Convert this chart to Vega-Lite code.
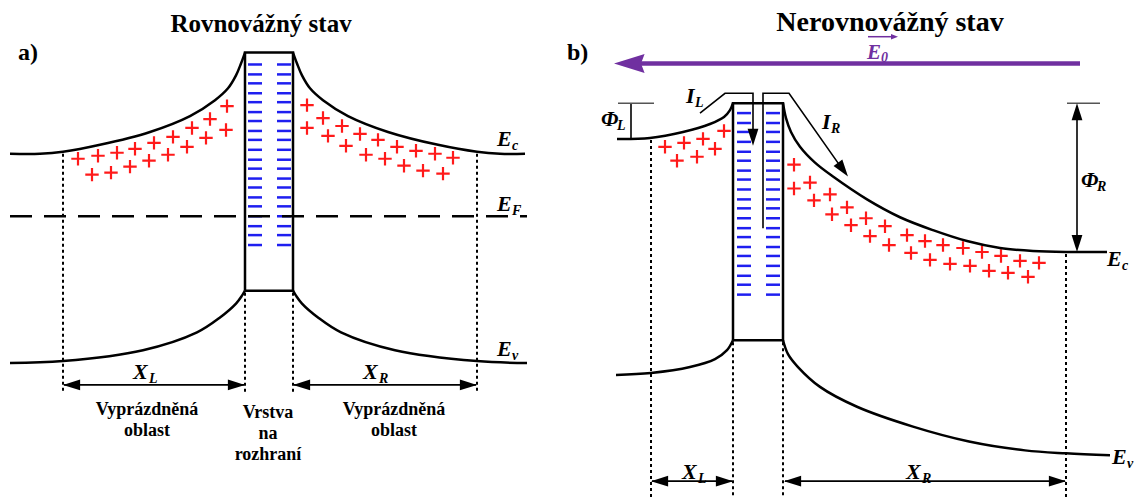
{
"$schema": "https://vega.github.io/schema/vega-lite/v6.json",
"width": 1140, "height": 502, "padding": 0,
"autosize": {"type": "fit", "contains": "padding"},
"background": "white",
"config": {"view": {"stroke": null}},
"datasets": {
"paths": [
{"id":"a_Ec_L","k":"curve","i":0,"x":10,"y":155},{"id":"a_Ec_L","k":"curve","i":1,"x":40,"y":155},{"id":"a_Ec_L","k":"curve","i":2,"x":63,"y":153},{"id":"a_Ec_L","k":"curve","i":3,"x":100,"y":146},{"id":"a_Ec_L","k":"curve","i":4,"x":150,"y":133},{"id":"a_Ec_L","k":"curve","i":5,"x":190,"y":117},{"id":"a_Ec_L","k":"curve","i":6,"x":215,"y":101},{"id":"a_Ec_L","k":"curve","i":7,"x":228,"y":89},{"id":"a_Ec_L","k":"curve","i":8,"x":236,"y":76},{"id":"a_Ec_L","k":"curve","i":9,"x":241,"y":64},{"id":"a_Ec_L","k":"curve","i":10,"x":245,"y":53},
{"id":"a_Ec_R","k":"curve","i":0,"x":293,"y":53},{"id":"a_Ec_R","k":"curve","i":1,"x":297,"y":64},{"id":"a_Ec_R","k":"curve","i":2,"x":302,"y":76},{"id":"a_Ec_R","k":"curve","i":3,"x":310,"y":89},{"id":"a_Ec_R","k":"curve","i":4,"x":323,"y":101},{"id":"a_Ec_R","k":"curve","i":5,"x":348,"y":117},{"id":"a_Ec_R","k":"curve","i":6,"x":388,"y":133},{"id":"a_Ec_R","k":"curve","i":7,"x":438,"y":146},{"id":"a_Ec_R","k":"curve","i":8,"x":477,"y":153},{"id":"a_Ec_R","k":"curve","i":9,"x":500,"y":155},{"id":"a_Ec_R","k":"curve","i":10,"x":525,"y":155},
{"id":"a_Ev_L","k":"curve","i":0,"x":10,"y":366},{"id":"a_Ev_L","k":"curve","i":1,"x":63,"y":364},{"id":"a_Ev_L","k":"curve","i":2,"x":143,"y":353},{"id":"a_Ev_L","k":"curve","i":3,"x":197,"y":335},{"id":"a_Ev_L","k":"curve","i":4,"x":220,"y":320},{"id":"a_Ev_L","k":"curve","i":5,"x":236,"y":306},{"id":"a_Ev_L","k":"curve","i":6,"x":242,"y":298},{"id":"a_Ev_L","k":"curve","i":7,"x":245,"y":293},
{"id":"a_Ev_R","k":"curve","i":0,"x":293,"y":293},{"id":"a_Ev_R","k":"curve","i":1,"x":296,"y":298},{"id":"a_Ev_R","k":"curve","i":2,"x":302,"y":306},{"id":"a_Ev_R","k":"curve","i":3,"x":318,"y":320},{"id":"a_Ev_R","k":"curve","i":4,"x":341,"y":335},{"id":"a_Ev_R","k":"curve","i":5,"x":395,"y":353},{"id":"a_Ev_R","k":"curve","i":6,"x":477,"y":364},{"id":"a_Ev_R","k":"curve","i":7,"x":527,"y":366},
{"id":"a_box","k":"seg","i":0,"x":245,"y":293},{"id":"a_box","k":"seg","i":1,"x":245,"y":53},{"id":"a_box","k":"seg","i":2,"x":293,"y":53},{"id":"a_box","k":"seg","i":3,"x":293,"y":293},{"id":"a_box","k":"seg","i":4,"x":245,"y":293},
{"id":"a_EF","k":"dash","i":0,"x":10,"y":218},{"id":"a_EF","k":"dash","i":1,"x":527,"y":218},
{"id":"a_d1","k":"dot","i":0,"x":63,"y":155},{"id":"a_d1","k":"dot","i":1,"x":63,"y":396},
{"id":"a_d2","k":"dot","i":0,"x":245,"y":295},{"id":"a_d2","k":"dot","i":1,"x":245,"y":396},
{"id":"a_d3","k":"dot","i":0,"x":293,"y":295},{"id":"a_d3","k":"dot","i":1,"x":293,"y":396},
{"id":"a_d4","k":"dot","i":0,"x":477,"y":155},{"id":"a_d4","k":"dot","i":1,"x":477,"y":396},
{"id":"a_XL","k":"thin","i":0,"x":64,"y":388},{"id":"a_XL","k":"thin","i":1,"x":244,"y":388},
{"id":"a_XR","k":"thin","i":0,"x":294,"y":388},{"id":"a_XR","k":"thin","i":1,"x":476,"y":388},
{"id":"b_Ec_L","k":"curve","i":0,"x":617,"y":140},{"id":"b_Ec_L","k":"curve","i":1,"x":650,"y":139},{"id":"b_Ec_L","k":"curve","i":2,"x":683,"y":133},{"id":"b_Ec_L","k":"curve","i":3,"x":710,"y":125},{"id":"b_Ec_L","k":"curve","i":4,"x":724,"y":118},{"id":"b_Ec_L","k":"curve","i":5,"x":730,"y":111},{"id":"b_Ec_L","k":"curve","i":6,"x":733,"y":104},
{"id":"b_Ec_R","k":"curve","i":0,"x":783,"y":104},{"id":"b_Ec_R","k":"curve","i":1,"x":786,"y":119},{"id":"b_Ec_R","k":"curve","i":2,"x":791,"y":133},{"id":"b_Ec_R","k":"curve","i":3,"x":800,"y":148},{"id":"b_Ec_R","k":"curve","i":4,"x":815,"y":164},{"id":"b_Ec_R","k":"curve","i":5,"x":833,"y":178},{"id":"b_Ec_R","k":"curve","i":6,"x":867,"y":201},{"id":"b_Ec_R","k":"curve","i":7,"x":900,"y":219},{"id":"b_Ec_R","k":"curve","i":8,"x":933,"y":232},{"id":"b_Ec_R","k":"curve","i":9,"x":967,"y":243},{"id":"b_Ec_R","k":"curve","i":10,"x":1000,"y":250},{"id":"b_Ec_R","k":"curve","i":11,"x":1033,"y":253},{"id":"b_Ec_R","k":"curve","i":12,"x":1066,"y":254},{"id":"b_Ec_R","k":"curve","i":13,"x":1107,"y":254},
{"id":"b_Ev_L","k":"curve","i":0,"x":616,"y":378},{"id":"b_Ev_L","k":"curve","i":1,"x":651,"y":376},{"id":"b_Ev_L","k":"curve","i":2,"x":690,"y":370},{"id":"b_Ev_L","k":"curve","i":3,"x":715,"y":362},{"id":"b_Ev_L","k":"curve","i":4,"x":727,"y":353},{"id":"b_Ev_L","k":"curve","i":5,"x":733,"y":343},
{"id":"b_Ev_R","k":"curve","i":0,"x":783,"y":343},{"id":"b_Ev_R","k":"curve","i":1,"x":788,"y":357},{"id":"b_Ev_R","k":"curve","i":2,"x":798,"y":370},{"id":"b_Ev_R","k":"curve","i":3,"x":820,"y":390},{"id":"b_Ev_R","k":"curve","i":4,"x":857,"y":410},{"id":"b_Ev_R","k":"curve","i":5,"x":913,"y":430},{"id":"b_Ev_R","k":"curve","i":6,"x":969,"y":445},{"id":"b_Ev_R","k":"curve","i":7,"x":1025,"y":454},{"id":"b_Ev_R","k":"curve","i":8,"x":1066,"y":457},{"id":"b_Ev_R","k":"curve","i":9,"x":1110,"y":459},
{"id":"b_box","k":"seg","i":0,"x":733,"y":343},{"id":"b_box","k":"seg","i":1,"x":733,"y":104},{"id":"b_box","k":"seg","i":2,"x":783,"y":104},{"id":"b_box","k":"seg","i":3,"x":783,"y":343},{"id":"b_box","k":"seg","i":4,"x":733,"y":343},
{"id":"b_d1","k":"dot","i":0,"x":651,"y":141},{"id":"b_d1","k":"dot","i":1,"x":651,"y":502},
{"id":"b_d2","k":"dot","i":0,"x":733,"y":345},{"id":"b_d2","k":"dot","i":1,"x":733,"y":502},
{"id":"b_d3","k":"dot","i":0,"x":783,"y":345},{"id":"b_d3","k":"dot","i":1,"x":783,"y":502},
{"id":"b_d4","k":"dot","i":0,"x":1066,"y":256},{"id":"b_d4","k":"dot","i":1,"x":1066,"y":502},
{"id":"b_XL","k":"thin","i":0,"x":652,"y":485},{"id":"b_XL","k":"thin","i":1,"x":732,"y":485},
{"id":"b_XR","k":"thin","i":0,"x":785,"y":485},{"id":"b_XR","k":"thin","i":1,"x":1065,"y":485},
{"id":"b_IL","k":"thin","i":0,"x":700,"y":114},{"id":"b_IL","k":"thin","i":1,"x":725,"y":94},{"id":"b_IL","k":"thin","i":2,"x":753,"y":94},{"id":"b_IL","k":"thin","i":3,"x":753,"y":138},
{"id":"b_IR","k":"thin","i":0,"x":763,"y":230},{"id":"b_IR","k":"thin","i":1,"x":763,"y":94},{"id":"b_IR","k":"thin","i":2,"x":789,"y":94},{"id":"b_IR","k":"thin","i":3,"x":842,"y":170},
{"id":"b_PL","k":"thin","i":0,"x":631,"y":104},{"id":"b_PL","k":"thin","i":1,"x":631,"y":140},
{"id":"b_PR","k":"thin","i":0,"x":1077,"y":112},{"id":"b_PR","k":"thin","i":1,"x":1077,"y":246},
{"id":"b_tL","k":"gray","i":0,"x":618,"y":104},{"id":"b_tL","k":"gray","i":1,"x":654,"y":104},
{"id":"b_tR","k":"gray","i":0,"x":1067,"y":104},{"id":"b_tR","k":"gray","i":1,"x":1100,"y":104},
{"id":"b_E","k":"purple","i":0,"x":640,"y":64},{"id":"b_E","k":"purple","i":1,"x":1080,"y":64},
{"id":"b_E0","k":"pthin","i":0,"x":868,"y":37},{"id":"b_E0","k":"pthin","i":1,"x":891,"y":37}
],
"heads": [
{"k":"black","x":63,"y":388,"deg":180},{"k":"black","x":245,"y":388,"deg":0},{"k":"black","x":293,"y":388,"deg":180},{"k":"black","x":477,"y":388,"deg":0},
{"k":"black","x":651,"y":485,"deg":180},{"k":"black","x":733,"y":485,"deg":0},{"k":"black","x":784,"y":485,"deg":180},{"k":"black","x":1066,"y":485,"deg":0},
{"k":"black","x":753,"y":147,"deg":90},{"k":"black","x":848,"y":178,"deg":54},
{"k":"black","x":1077,"y":104,"deg":270},{"k":"black","x":1077,"y":254,"deg":90},
{"k":"pbig","x":614,"y":64,"deg":180},{"k":"psmall","x":898,"y":37,"deg":0}
],
"charges": [
{"q":"-","x":255,"y":65},{"q":"-","x":255,"y":75},{"q":"-","x":255,"y":84},{"q":"-","x":255,"y":94},{"q":"-","x":255,"y":103},{"q":"-","x":255,"y":113},{"q":"-","x":255,"y":122},{"q":"-","x":255,"y":132},{"q":"-","x":255,"y":141},{"q":"-","x":255,"y":151},{"q":"-","x":255,"y":161},{"q":"-","x":255,"y":170},{"q":"-","x":255,"y":180},{"q":"-","x":255,"y":189},{"q":"-","x":255,"y":199},{"q":"-","x":255,"y":208},{"q":"-","x":255,"y":218},{"q":"-","x":255,"y":228},{"q":"-","x":255,"y":237},{"q":"-","x":255,"y":247},
{"q":"-","x":284,"y":65},{"q":"-","x":284,"y":75},{"q":"-","x":284,"y":84},{"q":"-","x":284,"y":94},{"q":"-","x":284,"y":103},{"q":"-","x":284,"y":113},{"q":"-","x":284,"y":122},{"q":"-","x":284,"y":132},{"q":"-","x":284,"y":141},{"q":"-","x":284,"y":151},{"q":"-","x":284,"y":161},{"q":"-","x":284,"y":170},{"q":"-","x":284,"y":180},{"q":"-","x":284,"y":189},{"q":"-","x":284,"y":199},{"q":"-","x":284,"y":208},{"q":"-","x":284,"y":218},{"q":"-","x":284,"y":228},{"q":"-","x":284,"y":237},{"q":"-","x":284,"y":247},
{"q":"-","x":744,"y":114},{"q":"-","x":744,"y":124},{"q":"-","x":744,"y":133},{"q":"-","x":744,"y":143},{"q":"-","x":744,"y":153},{"q":"-","x":744,"y":162},{"q":"-","x":744,"y":172},{"q":"-","x":744,"y":181},{"q":"-","x":744,"y":191},{"q":"-","x":744,"y":201},{"q":"-","x":744,"y":210},{"q":"-","x":744,"y":220},{"q":"-","x":744,"y":230},{"q":"-","x":744,"y":239},{"q":"-","x":744,"y":249},{"q":"-","x":744,"y":258},{"q":"-","x":744,"y":268},{"q":"-","x":744,"y":278},{"q":"-","x":744,"y":287},{"q":"-","x":744,"y":297},
{"q":"-","x":773,"y":114},{"q":"-","x":773,"y":124},{"q":"-","x":773,"y":133},{"q":"-","x":773,"y":143},{"q":"-","x":773,"y":153},{"q":"-","x":773,"y":162},{"q":"-","x":773,"y":172},{"q":"-","x":773,"y":181},{"q":"-","x":773,"y":191},{"q":"-","x":773,"y":201},{"q":"-","x":773,"y":210},{"q":"-","x":773,"y":220},{"q":"-","x":773,"y":230},{"q":"-","x":773,"y":239},{"q":"-","x":773,"y":249},{"q":"-","x":773,"y":258},{"q":"-","x":773,"y":268},{"q":"-","x":773,"y":278},{"q":"-","x":773,"y":287},{"q":"-","x":773,"y":297},
{"q":"+","x":78,"y":160},{"q":"+","x":98,"y":157},{"q":"+","x":117,"y":154},{"q":"+","x":135,"y":150},{"q":"+","x":154,"y":144},{"q":"+","x":173,"y":138},{"q":"+","x":192,"y":129},{"q":"+","x":210,"y":120},{"q":"+","x":227,"y":107},
{"q":"+","x":92,"y":176},{"q":"+","x":111,"y":174},{"q":"+","x":130,"y":168},{"q":"+","x":149,"y":162},{"q":"+","x":168,"y":156},{"q":"+","x":187,"y":148},{"q":"+","x":206,"y":139},{"q":"+","x":226,"y":131},
{"q":"+","x":307,"y":106},{"q":"+","x":323,"y":119},{"q":"+","x":342,"y":127},{"q":"+","x":360,"y":135},{"q":"+","x":378,"y":141},{"q":"+","x":397,"y":148},{"q":"+","x":416,"y":152},{"q":"+","x":435,"y":155},{"q":"+","x":453,"y":159},
{"q":"+","x":307,"y":129},{"q":"+","x":328,"y":137},{"q":"+","x":346,"y":147},{"q":"+","x":366,"y":156},{"q":"+","x":385,"y":160},{"q":"+","x":404,"y":167},{"q":"+","x":423,"y":172},{"q":"+","x":443,"y":175},
{"q":"+","x":665,"y":148},{"q":"+","x":684,"y":144},{"q":"+","x":703,"y":140},{"q":"+","x":724,"y":132},{"q":"+","x":715,"y":150},{"q":"+","x":677,"y":162},{"q":"+","x":697,"y":158},
{"q":"+","x":794,"y":166},{"q":"+","x":794,"y":190},{"q":"+","x":810,"y":184},{"q":"+","x":814,"y":202},{"q":"+","x":830,"y":196},{"q":"+","x":832,"y":216},{"q":"+","x":847,"y":209},{"q":"+","x":851,"y":227},{"q":"+","x":866,"y":220},{"q":"+","x":870,"y":238},{"q":"+","x":885,"y":228},{"q":"+","x":889,"y":247},{"q":"+","x":907,"y":237},{"q":"+","x":911,"y":255},{"q":"+","x":925,"y":243},{"q":"+","x":930,"y":262},{"q":"+","x":943,"y":247},{"q":"+","x":950,"y":266},{"q":"+","x":963,"y":250},{"q":"+","x":970,"y":268},{"q":"+","x":982,"y":254},{"q":"+","x":989,"y":273},{"q":"+","x":1001,"y":258},{"q":"+","x":1008,"y":275},{"q":"+","x":1020,"y":263},{"q":"+","x":1028,"y":279},{"q":"+","x":1039,"y":265}
],
"texts": [
{"k":"title","t":"Rovnovážný stav","x":261,"y":32},{"k":"title2","t":"Nerovnovážný stav","x":890,"y":31},
{"k":"panel","t":"a)","x":18,"y":60},{"k":"panel","t":"b)","x":567,"y":60},
{"k":"cap","t":"Vyprázdněná","x":147,"y":418},{"k":"cap","t":"oblast","x":147,"y":440},
{"k":"cap","t":"Vrstva","x":268,"y":421},{"k":"cap","t":"na","x":268,"y":443},{"k":"cap","t":"rozhraní","x":268,"y":464},
{"k":"cap","t":"Vyprázdněná","x":394,"y":418},{"k":"cap","t":"oblast","x":394,"y":440},
{"k":"sym","t":"E","x":497,"y":147},{"k":"sub","t":"c","x":512,"y":151},
{"k":"sym","t":"E","x":497,"y":213},{"k":"sub","t":"F","x":512,"y":217},
{"k":"sym","t":"E","x":497,"y":359},{"k":"sub","t":"v","x":512,"y":363},
{"k":"sym","t":"X","x":133,"y":382},{"k":"sub","t":"L","x":149,"y":386},
{"k":"sym","t":"X","x":363,"y":382},{"k":"sub","t":"R","x":379,"y":386},
{"k":"sym","t":"Φ","x":601,"y":127},{"k":"sub","t":"L","x":617,"y":131},
{"k":"sym","t":"I","x":686,"y":104},{"k":"sub","t":"L","x":695,"y":108},
{"k":"sym","t":"I","x":822,"y":130},{"k":"sub","t":"R","x":831,"y":134},
{"k":"sym","t":"Φ","x":1081,"y":189},{"k":"sub","t":"R","x":1097,"y":193},
{"k":"sym","t":"E","x":1107,"y":268},{"k":"sub","t":"c","x":1122,"y":272},
{"k":"sym","t":"E","x":1112,"y":468},{"k":"sub","t":"v","x":1127,"y":472},
{"k":"sym","t":"X","x":682,"y":483},{"k":"sub","t":"L","x":698,"y":487},
{"k":"sym","t":"X","x":906,"y":483},{"k":"sub","t":"R","x":922,"y":487},
{"k":"psym","t":"E","x":867,"y":59},{"k":"psub","t":"0","x":881,"y":62}
]
},
"encoding": {
"x": {"field": "x", "type": "quantitative", "scale": {"domain": [0, 1140], "nice": false, "zero": false}, "axis": null},
"y": {"field": "y", "type": "quantitative", "scale": {"domain": [0, 502], "reverse": true, "nice": false, "zero": false}, "axis": null}
},
"layer": [
{"data": {"name": "charges"}, "transform": [{"filter": "datum.q == '-'"}],
 "mark": {"type": "point", "shape": "M-1,0H1", "filled": false, "stroke": "#1f1ff0", "strokeWidth": 2.5, "size": 196, "opacity": 1}},
{"data": {"name": "charges"}, "transform": [{"filter": "datum.q == '+'"}],
 "mark": {"type": "point", "shape": "M-1,0H1M0,-1V1", "filled": false, "stroke": "#ff1a1a", "strokeWidth": 2.2, "size": 180, "opacity": 1}},
{"data": {"name": "paths"}, "transform": [{"filter": "datum.k == 'dash'"}],
 "mark": {"type": "line", "stroke": "black", "strokeWidth": 2.5, "strokeDash": [22, 12]},
 "encoding": {"detail": {"field": "id"}, "order": {"field": "i"}}},
{"data": {"name": "paths"}, "transform": [{"filter": "datum.k == 'dot'"}],
 "mark": {"type": "line", "stroke": "black", "strokeWidth": 2, "strokeDash": [3, 3]},
 "encoding": {"detail": {"field": "id"}, "order": {"field": "i"}}},
{"data": {"name": "paths"}, "transform": [{"filter": "datum.k == 'curve'"}],
 "mark": {"type": "line", "interpolate": "catmull-rom", "stroke": "black", "strokeWidth": 2.5},
 "encoding": {"detail": {"field": "id"}, "order": {"field": "i"}}},
{"data": {"name": "paths"}, "transform": [{"filter": "datum.k == 'seg'"}],
 "mark": {"type": "line", "stroke": "black", "strokeWidth": 2.5, "strokeJoin": "miter"},
 "encoding": {"detail": {"field": "id"}, "order": {"field": "i"}}},
{"data": {"name": "paths"}, "transform": [{"filter": "datum.k == 'thin'"}],
 "mark": {"type": "line", "stroke": "black", "strokeWidth": 1.6, "strokeJoin": "miter"},
 "encoding": {"detail": {"field": "id"}, "order": {"field": "i"}}},
{"data": {"name": "paths"}, "transform": [{"filter": "datum.k == 'gray'"}],
 "mark": {"type": "line", "stroke": "#555555", "strokeWidth": 1.5},
 "encoding": {"detail": {"field": "id"}, "order": {"field": "i"}}},
{"data": {"name": "paths"}, "transform": [{"filter": "datum.k == 'purple'"}],
 "mark": {"type": "line", "stroke": "#7030a0", "strokeWidth": 4.5},
 "encoding": {"detail": {"field": "id"}, "order": {"field": "i"}}},
{"data": {"name": "paths"}, "transform": [{"filter": "datum.k == 'pthin'"}],
 "mark": {"type": "line", "stroke": "#7030a0", "strokeWidth": 1.5},
 "encoding": {"detail": {"field": "id"}, "order": {"field": "i"}}},
{"data": {"name": "heads"}, "transform": [{"filter": "datum.k == 'black'"}],
 "mark": {"type": "point", "shape": "M0,0L-1.9,-0.6L-1.9,0.6Z", "filled": true, "fill": "black", "strokeWidth": 0, "size": 324, "opacity": 1},
 "encoding": {"angle": {"field": "deg", "type": "quantitative", "scale": null}}},
{"data": {"name": "heads"}, "transform": [{"filter": "datum.k == 'pbig'"}],
 "mark": {"type": "point", "shape": "M0,0L-3.4,-1.05L-3,0L-3.4,1.05Z", "filled": true, "fill": "#7030a0", "strokeWidth": 0, "size": 324, "opacity": 1},
 "encoding": {"angle": {"field": "deg", "type": "quantitative", "scale": null}}},
{"data": {"name": "heads"}, "transform": [{"filter": "datum.k == 'psmall'"}],
 "mark": {"type": "point", "shape": "M0,0L-2,-0.8L-2,0.8Z", "filled": true, "fill": "#7030a0", "strokeWidth": 0, "size": 49, "opacity": 1},
 "encoding": {"angle": {"field": "deg", "type": "quantitative", "scale": null}}},
{"data": {"name": "texts"}, "transform": [{"filter": "datum.k == 'title'"}],
 "mark": {"type": "text", "font": "Liberation Serif", "fontWeight": "bold", "fontSize": 25, "align": "center", "baseline": "alphabetic", "color": "black"},
 "encoding": {"text": {"field": "t"}}},
{"data": {"name": "texts"}, "transform": [{"filter": "datum.k == 'title2'"}],
 "mark": {"type": "text", "font": "Liberation Serif", "fontWeight": "bold", "fontSize": 28, "align": "center", "baseline": "alphabetic", "color": "black"},
 "encoding": {"text": {"field": "t"}}},
{"data": {"name": "texts"}, "transform": [{"filter": "datum.k == 'panel'"}],
 "mark": {"type": "text", "font": "Liberation Serif", "fontWeight": "bold", "fontSize": 24, "align": "left", "baseline": "alphabetic", "color": "black"},
 "encoding": {"text": {"field": "t"}}},
{"data": {"name": "texts"}, "transform": [{"filter": "datum.k == 'cap'"}],
 "mark": {"type": "text", "font": "Liberation Serif", "fontWeight": "bold", "fontSize": 18, "align": "center", "baseline": "alphabetic", "color": "black"},
 "encoding": {"text": {"field": "t"}}},
{"data": {"name": "texts"}, "transform": [{"filter": "datum.k == 'sym'"}],
 "mark": {"type": "text", "font": "Liberation Serif", "fontWeight": "bold", "fontStyle": "italic", "fontSize": 22, "align": "left", "baseline": "alphabetic", "color": "black"},
 "encoding": {"text": {"field": "t"}}},
{"data": {"name": "texts"}, "transform": [{"filter": "datum.k == 'sub'"}],
 "mark": {"type": "text", "font": "Liberation Serif", "fontWeight": "bold", "fontStyle": "italic", "fontSize": 14, "align": "left", "baseline": "alphabetic", "color": "black"},
 "encoding": {"text": {"field": "t"}}},
{"data": {"name": "texts"}, "transform": [{"filter": "datum.k == 'psym'"}],
 "mark": {"type": "text", "font": "Liberation Serif", "fontWeight": "bold", "fontStyle": "italic", "fontSize": 21, "align": "left", "baseline": "alphabetic", "color": "#7030a0"},
 "encoding": {"text": {"field": "t"}}},
{"data": {"name": "texts"}, "transform": [{"filter": "datum.k == 'psub'"}],
 "mark": {"type": "text", "font": "Liberation Serif", "fontWeight": "bold", "fontStyle": "italic", "fontSize": 14, "align": "left", "baseline": "alphabetic", "color": "#7030a0"},
 "encoding": {"text": {"field": "t"}}}
]
}
